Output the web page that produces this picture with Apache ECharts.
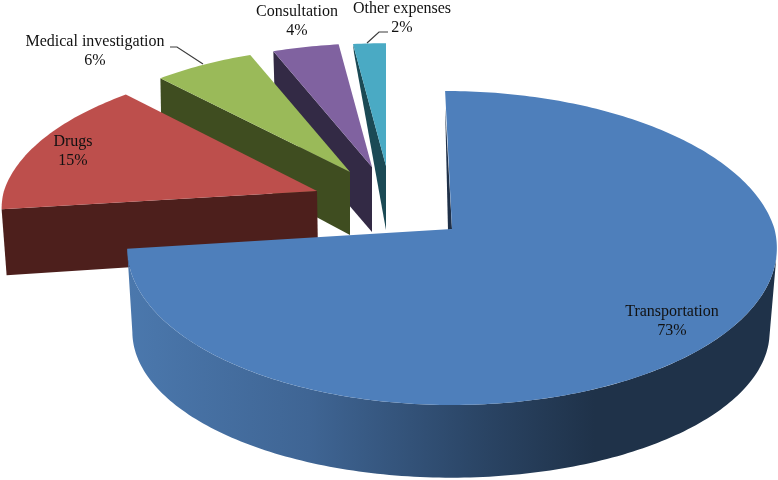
<!DOCTYPE html>
<html>
<head>
<meta charset="utf-8">
<style>html,body{margin:0;padding:0;background:#fff}#c{width:778px;height:480px}</style>
<script src="https://cdn.jsdelivr.net/npm/echarts@6/dist/echarts.min.js"></script>
</head>
<body>
<div id="c"></div>
<script>
// Data
const categories = ['Transportation', 'Drugs', 'Medical investigation', 'Consultation', 'Other expenses'];
const values = [73, 15, 6, 4, 2];

// Styles
const topColors = ['#4e7fbb', '#bd4f4c', '#9aba59', '#8062a0', '#4aaac4'];
const wallColors = ['#1f3048', '#4d1f1c', '#3f4d20', '#332a45', '#1b4a55'];

// Projection of the tilted disc (perspective)
const RX = 326 / 1.0059 , RY = 154.7, PERSP = -0.121;
const layout = [
  {apex:[452,229], sx:0.995, sy:1, shear:0.05, z:50,
   label:[672,321], bottomApex:[451,314], bx:0.976, by:0.93},
  {apex:[317,191], sx:0.966, sy:0.93, shear:-0.06, z:40, label:[73,151],
   wallApex:[1,64], wallRim:[5,66]},
  {apex:[350,172], sx:0.93, sy:0.905, shear:0, z:30, label:[95,51],
   wallApex:[0,63], wallRim:[1,56], leader:[[170,47],[177,47],[203,64]]},
  {apex:[372,167], sx:0.92, sy:0.895, shear:0, z:20, label:[297,21.5],
   wallApex:[0,65], wallRim:[2,68]},
  {apex:[386,166], sx:0.91, sy:0.89, shear:0, z:10, label:[402,18],
   wallApex:[0,64], wallRim:[1,9], leader:[[388,32],[379,32],[367,43]]}
];

const total = values.reduce((a, b) => a + b, 0);
const starts = [];
values.reduce((acc, v, i) => { starts[i] = acc; return acc + v; }, 0);

function rimPoint(l, deg, bottom) {
  const t = deg * Math.PI / 180;
  const u = Math.sin(t), v = -Math.cos(t);
  const d = 1 + PERSP * v;
  if (bottom) {
    return [l.bottomApex[0] + l.bx * RX * u / d, l.bottomApex[1] + l.by * RY * v / d];
  }
  const dy = l.sy * RY * v / d;
  const sh = v < 0 ? l.shear * dy : 0;
  return [l.apex[0] + l.sx * RX * u / d + sh, l.apex[1] + dy];
}
function arc(l, a0, a1, bottom) {
  const pts = [];
  const n = Math.max(2, Math.ceil(Math.abs(a1 - a0)));
  for (let k = 0; k <= n; k++) pts.push(rimPoint(l, a0 + (a1 - a0) * k / n, bottom));
  return pts;
}
function add(p, o) { return [p[0] + o[0], p[1] + o[1]]; }

function renderItem(params, api) {
  const i = params.dataIndex;
  const l = layout[i];
  const v = api.value(0);
  const a0 = starts[i] / total * 360;
  const a1 = a0 + v / total * 360;
  const kids = [];
  if (i === 0) {
    // outer wall with a horizontal gradient, from the visible silhouette round to the end edge
    const top = arc(l, 100, a1, false);
    const bot = arc(l, 100, a1, true).reverse();
    kids.push({type:'polygon', z2:l.z, shape:{points:top.concat(bot)}, style:{
      fill:new echarts.graphic.LinearGradient(0,0,1,0,[
        {offset:0, color:'#4b78ad'},
        {offset:0.28, color:'#3f6594'},
        {offset:0.55, color:'#2a4464'},
        {offset:0.72, color:'#1f3249'},
        {offset:1, color:'#1f3249'}])}});
    // thin visible sliver of the cut face at the start edge
    const tip = rimPoint(l, a0, false);
    kids.push({type:'polygon', z2:l.z, shape:{points:[
      [tip[0], tip[1] + 16], [l.apex[0] - 4, l.apex[1] + 1], l.apex]},
      style:{fill:wallColors[0]}});
  } else {
    const rimS = rimPoint(l, a0, false);
    kids.push({type:'polygon', z2:l.z, shape:{points:[
      rimS, l.apex, add(l.apex, l.wallApex), add(rimS, l.wallRim)]},
      style:{fill:wallColors[i]}});
  }
  kids.push({type:'polygon', z2:l.z + 1, shape:{points:[l.apex].concat(arc(l, a0, a1, false))},
    style:{fill:topColors[i]}});
  if (l.leader) {
    kids.push({type:'polyline', z2:90, shape:{points:l.leader},
      style:{stroke:'#3c3c3c', lineWidth:1.2, fill:null}});
  }
  kids.push({type:'text', z2:100, x:l.label[0], y:l.label[1], style:{
    text:categories[i] + '\n' + v + '%',
    fontFamily:'"Liberation Serif", serif', fontSize:16, lineHeight:19,
    align:'center', verticalAlign:'middle', fill:'#111'}});
  return {type:'group', children:kids};
}

const chart = echarts.init(document.getElementById('c'), null, {renderer:'canvas'});
chart.setOption({
  animation:false,
  backgroundColor:'#fff',
  series:[{
    type:'custom',
    coordinateSystem:'none',
    renderItem:renderItem,
    clip:false,
    data:categories.map((c, i) => ({name:c, value:[values[i]]}))
  }]
});
</script>
</body>
</html>
